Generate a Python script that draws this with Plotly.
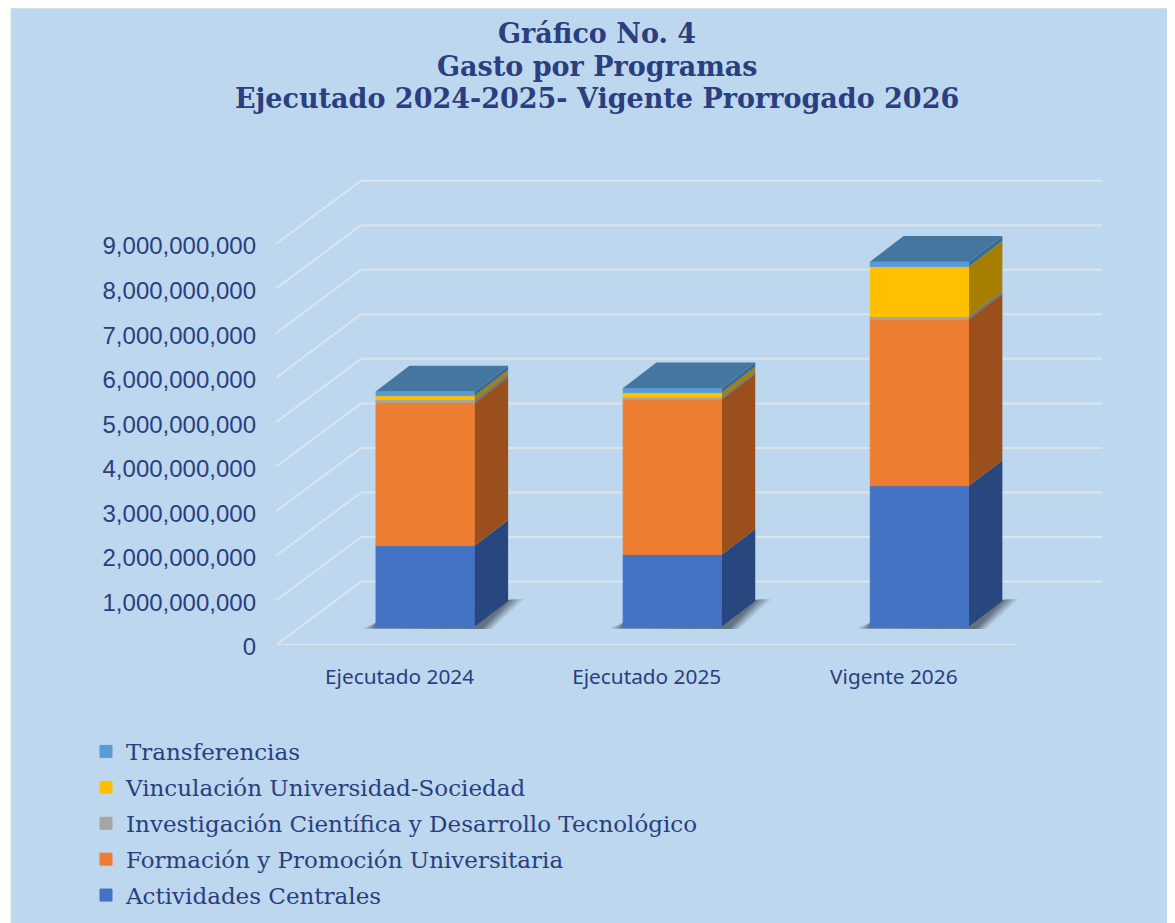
import plotly.graph_objects as go

categories = ["Ejecutado 2024", "Ejecutado 2025", "Vigente 2026"]
series_names = ["Actividades Centrales", "Formación y Promoción Universitaria",
                "Investigación Científica y Desarrollo Tecnológico",
                "Vinculación Universidad-Sociedad", "Transferencias"]
title_lines = ["Gráfico No. 4", "Gasto por Programas", "Ejecutado 2024-2025- Vigente Prorrogado 2026"]
actividades = [1816000000, 1614000000, 3161000000]
formacion = [3206000000, 3487000000, 3738000000]
investigacion = [70000000, 50000000, 60000000]
vinculacion = [90000000, 100000000, 1121000000]
transferencias = [100000000, 100000000, 112000000]
tick_values = [0, 1e9, 2e9, 3e9, 4e9, 5e9, 6e9, 7e9, 8e9, 9e9]

series = [actividades, formacion, investigacion, vinculacion, transferencias]
front_colors = ["#4472C4", "#ED7D31", "#A5A5A5", "#FFC000", "#5B9BD5"]
side_colors = ["#28477F", "#9A4F1C", "#6B7378", "#A67E00", "#3B6A94"]
top_color = "#44769F"
text_color = "#2A3E80"
grid_color = "#DCE4EC"
panel_color = "#BDD7EE"

# Page geometry (px); the page body adds an 8 px margin, so figure px = page px - 8
OFF = 8
W, H = 1175, 923
L, R, T, B = 276 - OFF, 1101.6 - OFF, 170 - OFF, 645 - OFF
PX_PER_CAT = 247.0
PX_PER_VAL = 44.55 / 1e9
xmin = -0.5
xmax = xmin + (R - L) / PX_PER_CAT
ymax = (B - T) / PX_PER_VAL
wall_dx = 85 / PX_PER_CAT
wall_dy = 63.4 / PX_PER_VAL
bar_dx = 33.3 / PX_PER_CAT
bar_dy = 25.5 / PX_PER_VAL
bar_shift = 25.85 / PX_PER_CAT
bar_width = 98.7 / PX_PER_CAT
bar_floor = 18.5 / PX_PER_VAL
px_x = 1 / PX_PER_CAT
px_y = 1 / PX_PER_VAL

fig = go.Figure()
shapes = [dict(type="rect", xref="paper", yref="paper",
               x0=(11 - OFF - L) / (R - L), x1=(W - L) / (R - L),
               y0=(B - H) / (B - T), y1=B / (B - T),
               fillcolor=panel_color, line=dict(color="#E1E6EA", width=1), layer="below")]


def seg(x0, y0, x1, y1):
    return dict(type="line", xref="x", yref="y", x0=x0, y0=y0, x1=x1, y1=y1,
                line=dict(color=grid_color, width=2), layer="below")


# Walls and floor gridlines, from the axis ticks
for v in tick_values:
    shapes.append(seg(xmin, v, xmin + wall_dx, v + wall_dy))
    shapes.append(seg(xmin + wall_dx, v + wall_dy, xmax, v + wall_dy))
shapes.append(seg(xmin, 0, xmin + 3, 0))

# Soft cast shadows on the floor
for i in range(len(categories)):
    xa = i + bar_shift - bar_width / 2
    xb = xa + bar_width
    yb = bar_floor
    for grow, op in [(1.0, 0.12), (0.8, 0.16), (0.6, 0.2), (0.4, 0.26), (0.2, 0.3)]:
        pts = [(xa - 14 * grow * px_x, yb - 2 * px_y),
               (xa, yb + 4 * px_y),
               (xb + bar_dx, yb + bar_dy + 1 * px_y),
               (xb + bar_dx + 16 * grow * px_x, yb + bar_dy + 2 * px_y),
               (xb + 5 * px_x + 12 * grow * px_x, yb - 2.5 * px_y)]
        path = "M " + " L ".join(f"{x},{y}" for x, y in pts) + " Z"
        shapes.append(dict(type="path", xref="x", yref="y", path=path,
                           fillcolor="#3E4A54", opacity=op, line=dict(width=0), layer="below"))

# Front faces: true stacked values from the arrays
xs = [i + bar_shift for i in range(len(categories))]
bottoms = [bar_floor] * len(categories)
for idx, (name, vals, fc, sc) in enumerate(zip(series_names, series, front_colors, side_colors)):
    fig.add_trace(go.Bar(x=xs, y=vals, base=list(bottoms), name=name, width=bar_width,
                         legendgroup=name, legendrank=1000 - idx,
                         marker=dict(color=fc, line=dict(color=fc, width=1))))
    for x, b, v in zip(xs, bottoms, vals):
        xr = x + bar_width / 2
        fig.add_trace(go.Scatter(
            x=[xr, xr + bar_dx, xr + bar_dx, xr, xr],
            y=[b, b + bar_dy, b + v + bar_dy, b + v, b],
            mode="lines", fill="toself", fillcolor=sc, line=dict(width=0, color=sc),
            legendgroup=name, legendrank=1000 - idx, showlegend=False, hoverinfo="skip"))
    bottoms = [b + v for b, v in zip(bottoms, vals)]

# Top faces
for x, t in zip(xs, bottoms):
    xl, xr = x - bar_width / 2, x + bar_width / 2
    fig.add_trace(go.Scatter(
        x=[xl, xr, xr + bar_dx, xl + bar_dx, xl],
        y=[t, t, t + bar_dy, t + bar_dy, t],
        mode="lines", fill="toself", fillcolor=top_color, line=dict(width=0, color=top_color),
        showlegend=False, hoverinfo="skip"))

title_annotations = [
    dict(text=line, xref="paper", yref="paper", x=(597 - OFF - L) / (R - L),
         y=(B - (cy - OFF)) / (B - T), xanchor="center", yanchor="middle", showarrow=False,
         font=dict(family="DejaVu Serif", size=27, color=text_color, weight="bold"))
    for line, cy in zip(title_lines, [34, 66, 98])
]

fig.update_layout(
    width=W, height=H, autosize=False,
    margin=dict(l=L, r=W - R, t=T, b=H - B, autoexpand=False),
    paper_bgcolor="#FFFEFA", plot_bgcolor="rgba(0,0,0,0)",
    barmode="overlay", shapes=shapes, annotations=title_annotations,
    xaxis=dict(range=[xmin, xmax], tickmode="array", tickvals=list(range(len(categories))),
               ticktext=categories, showgrid=False, zeroline=False, showline=False,
               ticks="", ticklabelstandoff=17,
               tickfont=dict(family="Noto Sans", size=20.8, color=text_color)),
    yaxis=dict(range=[0, ymax], tickmode="array", tickvals=tick_values, tickformat=",d",
               showgrid=False, zeroline=False, showline=False, ticks="", ticklabelstandoff=19,
               ticklabelshift=2,
               tickfont=dict(family="Liberation Sans", size=24, color=text_color)),
    legend=dict(traceorder="grouped", tracegroupgap=3, xref="container", yref="container",
                x=78 / W, y=1 - 722 / H, xanchor="left", yanchor="top",
                bgcolor="rgba(0,0,0,0)",
                font=dict(family="DejaVu Serif", size=23, color=text_color)),
)
fig.write_html("out.html")
